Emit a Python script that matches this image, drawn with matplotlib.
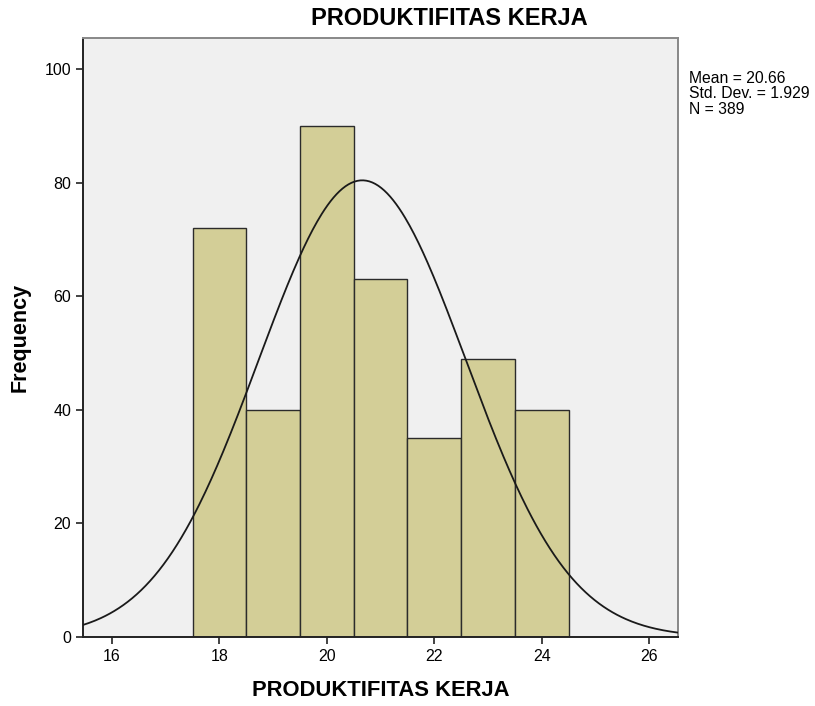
import numpy as np
import matplotlib
matplotlib.use("Agg")
import matplotlib.pyplot as plt

plt.rcParams['font.family'] = ['Liberation Sans', 'DejaVu Sans']

# histogram data
bin_centers = [18, 19, 20, 21, 22, 23, 24]
counts = [72, 40, 90, 63, 35, 49, 40]
mean = 20.66
std = 1.929
n = 389

fig = plt.figure(figsize=(8.15, 7.06), dpi=100)
ax = fig.add_axes([0.1018, 0.0977, 0.7302, 0.8483])
ax.set_facecolor('#f0f0f0')

ax.bar(bin_centers, counts, width=1.0, color='#d3ce97', edgecolor='#2b2b2b', linewidth=1.0, zorder=2)

# normal curve scaled to bin width 1
xs = np.linspace(15.46, 26.54, 400)
ys = n * 1.0 / (std * np.sqrt(2 * np.pi)) * np.exp(-0.5 * ((xs - mean) / std) ** 2)
ax.plot(xs, ys, color='#1a1a1a', linewidth=1.3, zorder=3)

ax.set_xlim(15.46, 26.54)
ax.set_ylim(0, 105.5)
ax.set_xticks([16, 18, 20, 22, 24, 26])
ax.set_yticks([0, 20, 40, 60, 80, 100])
ax.tick_params(direction='out', length=5, width=1.2, labelsize=11.5, color='#222222')

for side in ['left', 'bottom']:
    ax.spines[side].set_color('#222222')
    ax.spines[side].set_linewidth(1.4)
for side in ['top', 'right']:
    ax.spines[side].set_color('#888888')
    ax.spines[side].set_linewidth(1.4)

fig.text(0.551, 0.974, 'PRODUKTIFITAS KERJA', fontsize=17, fontweight='bold', ha='center', va='center')
ax.set_xlabel('PRODUKTIFITAS KERJA', fontsize=15.8, fontweight='bold', labelpad=12)
ax.set_ylabel('Frequency', fontsize=15.5, fontweight='bold', labelpad=10)

fig.text(0.845, 0.900, f'Mean = {mean:.2f}\nStd. Dev. = {std:.3f}\nN = {n}',
         fontsize=11.3, va='top', ha='left', linespacing=1.05)

fig.savefig('out.png', dpi=100, facecolor='white')
